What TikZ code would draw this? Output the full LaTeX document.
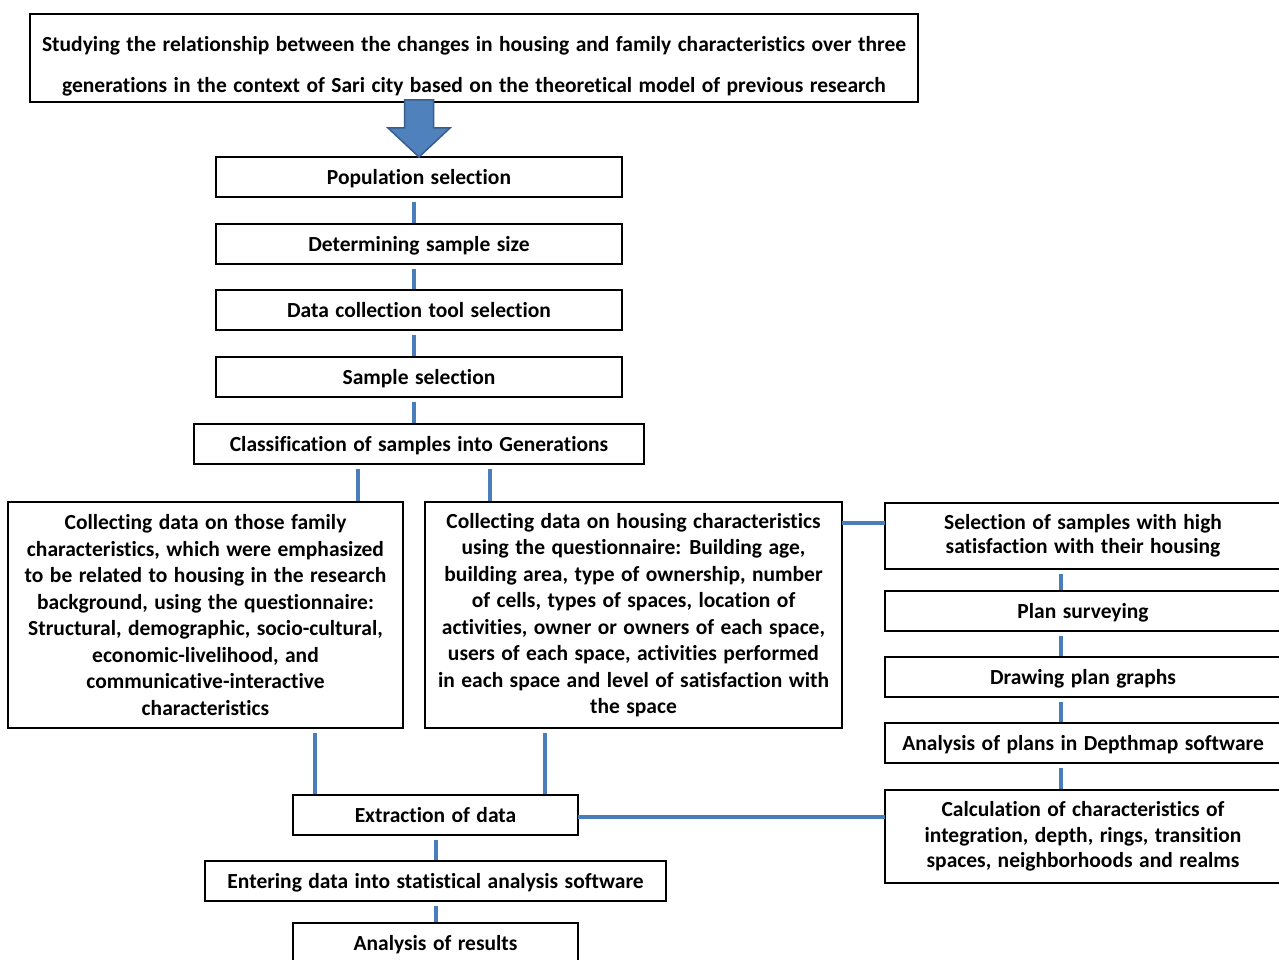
\documentclass[tikz,border=0pt]{standalone}
\usepackage{fontspec}
\setmainfont{Carlito}[Ligatures=CommonOff]
\usetikzlibrary{calc}
\definecolor{linkblue}{RGB}{74,126,187}
\definecolor{arrowfill}{RGB}{79,129,189}
\definecolor{arrowedge}{RGB}{56,93,138}
% bold box lettering with slightly wider word spaces
\newcommand{\boxfont}[1]{\bfseries\fontsize{21.5}{#1}\selectfont\spaceskip=0.3em\relax}

\begin{document}
\begin{tikzpicture}[x=1pt,y=-1pt,
  box/.style={draw=black, line width=2pt, fill=white, inner sep=0pt, outer sep=0pt,
    anchor=north west, align=center, font=\boxfont{26.5}},
  single/.style={text height=17.5pt, text depth=2.5pt},
  link/.style={draw=linkblue, line width=3.5pt, shorten <=5pt, shorten >=1.5pt},
  joint/.style={draw=linkblue, line width=3.5pt}]

% page
\useasboundingbox (0,0) rectangle (1279,960);
\fill[white] (0,0) rectangle (1279,960);
\clip (0,0) rectangle (1279,960);

% columns used by the connectors
\coordinate (cA) at (414,0);
\coordinate (cL) at (358,0);
\coordinate (cM) at (490,0);
\coordinate (cF) at (315,0);
\coordinate (cH) at (545,0);
\coordinate (cE) at (436,0);
\coordinate (cR) at (1061,0);

% title box
\node[box, minimum width=888pt, minimum height=88pt, font=\boxfont{41}] (goal) at (30,14)
  {\rule{0pt}{31pt}Studying the relationship between the changes in housing and family characteristics over three\\
   generations in the context of Sari city based on the theoretical model of previous research};

% main sequence
\node[box, single, minimum width=406pt, minimum height=40pt] (pop) at (216,157) {Population selection};
\node[box, single, minimum width=406pt, minimum height=40pt] (size) at (216,224) {Determining sample size};
\node[box, single, minimum width=406pt, minimum height=40pt] (tool) at (216,290) {Data collection tool selection};
\node[box, single, minimum width=406pt, minimum height=40pt] (sample) at (216,357) {Sample selection};
\node[box, single, minimum width=450pt, minimum height=40pt] (cls) at (194,424) {Classification of samples into Generations};

% data collection
\node[box, minimum width=395pt, minimum height=226pt] (fam) at (8,502)
  {Collecting data on those family\\
   characteristics, which were emphasized\\
   to be related to housing in the research\\
   background, using the questionnaire:\\
   Structural, demographic, socio-cultural,\\
   economic-livelihood, and\\
   communicative-interactive\\
   characteristics};
\node[box, minimum width=417pt, minimum height=226pt] (house) at (425,502)
  {Collecting data on housing characteristics\\
   using the questionnaire: Building age,\\
   building area, type of ownership, number\\
   of cells, types of spaces, location of\\
   activities, owner or owners of each space,\\
   users of each space, activities performed\\
   in each space and level of satisfaction with\\
   the space};

% plan analysis column
\node[box, minimum width=396pt, minimum height=66pt, font=\boxfont{24}] (sel) at (885,503)
  {Selection of samples with high\\ satisfaction with their housing};
\node[box, single, minimum width=396pt, minimum height=40pt] (survey) at (885,591) {Plan surveying};
\node[box, single, minimum width=396pt, minimum height=40pt] (graphs) at (885,657) {Drawing plan graphs};
\node[box, single, minimum width=396pt, minimum height=40pt] (depth) at (885,723) {Analysis of plans in Depthmap software};
\node[box, minimum width=396pt, minimum height=93pt, font=\boxfont{25.5}] (calc) at (885,790)
  {Calculation of characteristics of\\ integration, depth, rings, transition\\ spaces, neighborhoods and realms};

% analysis sequence
\node[box, single, minimum width=285pt, minimum height=40pt] (extract) at (293,795) {Extraction of data};
\node[box, single, minimum width=461pt, minimum height=40pt] (enter) at (205,861) {Entering data into statistical analysis software};
\node[box, single, minimum width=285pt, minimum height=40pt] (results) at (293,923) {Analysis of results};

% block arrow from the title
\fill[arrowfill, draw=arrowedge, line width=1.5pt, line join=miter]
  ($(pop.north)+(-14.5,-57)$) -- ($(pop.north)+(14.5,-57)$) --
  ($(pop.north)+(14.5,-29)$) -- ($(pop.north)+(31,-29)$) --
  (pop.north) --
  ($(pop.north)+(-31,-29)$) -- ($(pop.north)+(-14.5,-29)$) -- cycle;

% connectors
\draw[link] (pop.south -| cA) -- (size.north -| cA);
\draw[link] (size.south -| cA) -- (tool.north -| cA);
\draw[link] (tool.south -| cA) -- (sample.north -| cA);
\draw[link] (sample.south -| cA) -- (cls.north -| cA);
\draw[link] (cls.south -| cL) -- (fam.north -| cL);
\draw[link] (cls.south -| cM) -- (house.north -| cM);
\draw[link] (fam.south -| cF) -- (extract.north -| cF);
\draw[link] (house.south -| cH) -- (extract.north -| cH);
\draw[link] (extract.south -| cE) -- (enter.north -| cE);
\draw[link] (enter.south -| cE) -- (results.north -| cE);
\draw[joint] ($(house.north east)+(0,21)$) -- ($(sel.north west)+(0,20)$);
\draw[link] (sel.south -| cR) -- (survey.north -| cR);
\draw[link] (survey.south -| cR) -- (graphs.north -| cR);
\draw[link] (graphs.south -| cR) -- (depth.north -| cR);
\draw[link] (depth.south -| cR) -- (calc.north -| cR);
\draw[joint] ($(extract.north east)+(0,22)$) -- ($(calc.north west)+(0,27)$);
\end{tikzpicture}
\end{document}
